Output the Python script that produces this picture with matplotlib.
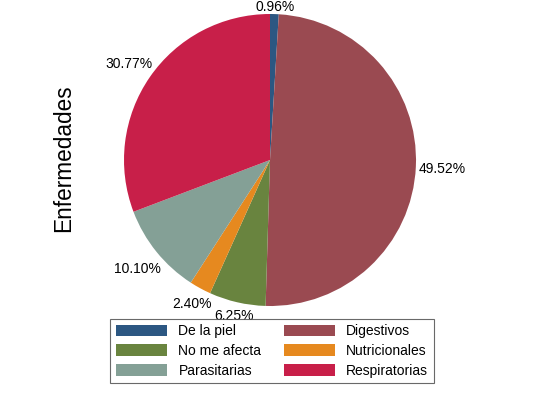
import matplotlib
matplotlib.use('Agg')
from matplotlib import pyplot as plt
import numpy as np

plt.rcParams['font.family'] = ['Liberation Sans', 'DejaVu Sans']

categories = ['De la piel', 'Digestivos', 'No me afecta', 'Nutricionales',
              'Parasitarias', 'Respiratorias']
shares = [0.96, 49.52, 6.25, 2.40, 10.10, 30.77]
colors = ['#2c5782', '#9a4a51', '#69843f', '#e6891f', '#84a096', '#c81f49']

fig = plt.figure(figsize=(5.4, 3.93), dpi=100)

# pie axes placed so centre sits near (270, 160) px with radius 146 px
r_px = 146
ax = fig.add_axes([(270 - r_px) / 540, (233 - r_px) / 393, 2 * r_px / 540, 2 * r_px / 393])
wedges, texts = ax.pie(shares, colors=colors, startangle=90, counterclock=False,
                       labels=[f'{v:.2f}%' for v in shares], labeldistance=1.06,
                       wedgeprops=dict(linewidth=0),
                       textprops=dict(fontsize=10))
ax.set_xlim(-1, 1)
ax.set_ylim(-1, 1)
ax.set_aspect('equal')

# put each label centred on the wedge's mid ray, just clear of the rim
fig.canvas.draw()
renderer = fig.canvas.get_renderer()
for w, t in zip(wedges, texts):
    ang = np.deg2rad((w.theta1 + w.theta2) / 2)
    c, s = np.cos(ang), np.sin(ang)
    bb = t.get_window_extent(renderer)
    hw, hh = bb.width / 2 / r_px, 5 / r_px
    d = 1.02 + abs(c) * hw + abs(s) * hh
    t.set_position((d * c, d * s))
    t.set_ha('center')
    t.set_va('center_baseline')

fig.text(64 / 540, 1 - 158 / 393, 'Enfermedades', rotation=90, fontsize=16.3,
         ha='center', va='center')

# legend filled row by row, as in the original
order = [0, 2, 4, 1, 3, 5]
leg = fig.legend([wedges[i] for i in order], [categories[i] for i in order],
                 ncol=2, loc='center', bbox_to_anchor=(272 / 540, 1 - 351 / 393),
                 fontsize=10, frameon=True, fancybox=False, edgecolor='#444444',
                 handlelength=3.7, handleheight=0.9, handletextpad=0.8,
                 columnspacing=1.6, labelspacing=0.4, borderpad=0.4)
leg.get_frame().set_linewidth(0.8)

fig.savefig('out.png', dpi=100, facecolor='white')
